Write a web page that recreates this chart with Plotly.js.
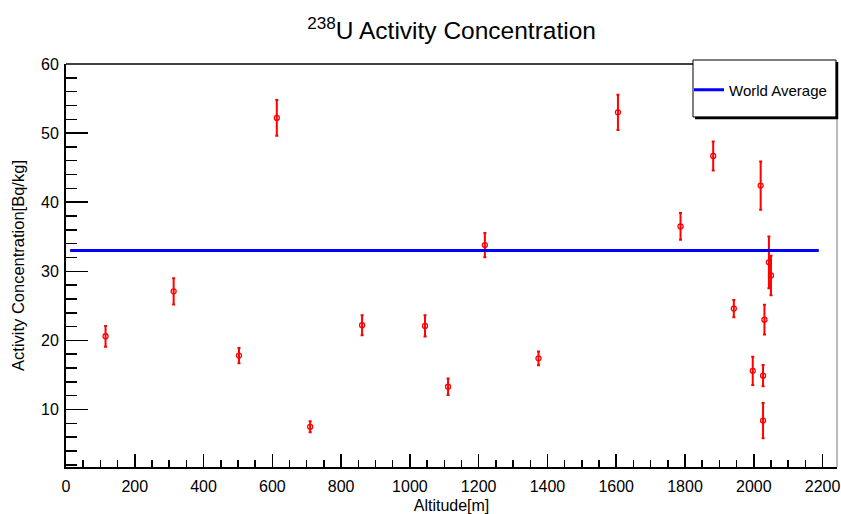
<!DOCTYPE html>
<html>
<head>
<meta charset="utf-8">
<script src="https://cdn.plot.ly/plotly-3.0.1.min.js"></script>
<style>html,body{margin:0;padding:0;background:#fff;}#chart{width:841px;height:514px;}</style>
</head>
<body>
<div id="chart"></div>
<script>
// Sample data
const altitude = [115, 313, 503, 613, 710, 861, 1044, 1111, 1218, 1374, 1605, 1787, 1882, 1942, 1997, 2020, 2027, 2027, 2031, 2044, 2050];
const activity = [20.6, 27.1, 17.8, 52.2, 7.5, 22.2, 22.1, 13.3, 33.8, 17.4, 53.0, 36.5, 46.7, 24.6, 15.6, 42.4, 14.9, 8.4, 23.0, 31.3, 29.4];
const activityErr = [1.5, 1.9, 1.1, 2.6, 0.8, 1.45, 1.55, 1.2, 1.75, 1.0, 2.55, 1.95, 2.1, 1.25, 2.05, 3.5, 1.55, 2.55, 2.15, 3.75, 2.85];

// World average reference line
const worldX = [12, 2189];
const worldY = [33, 33];
const worldName = "World Average";

const FONT = "'Liberation Sans', Arial, Helvetica, sans-serif";

// plot frame in pixels
const L = 66, R = 837, T = 64, B = 467, W = 841, H = 514;
const px = v => (v - L) / (R - L);
const py = v => (B - v) / (B - T);

const traces = [
  {
    x: altitude, y: activity, type: 'scatter', mode: 'markers',
    marker: {symbol: 'circle-open', size: 5, color: '#ff0000', line: {width: 1.3, color: '#ff0000'}},
    error_y: {type: 'data', array: activityErr, visible: true, color: '#ff0000', thickness: 2, width: 1.5},
    showlegend: false, hoverinfo: 'x+y'
  },
  {
    x: worldX, y: worldY, type: 'scatter', mode: 'lines', name: worldName,
    line: {color: '#0000ff', width: 3}, showlegend: true
  }
];

const layout = {
  width: W, height: H,
  margin: {l: L, r: W - R, t: T, b: H - B, pad: 0},
  paper_bgcolor: '#ffffff', plot_bgcolor: '#ffffff',
  font: {family: FONT, color: '#000000'},
  title: {text: '<sup>238</sup>U Activity Concentration', font: {family: FONT, size: 24.5, color: '#000'},
          x: 0.537, xanchor: 'center', y: 0.94, yanchor: 'middle'},
  xaxis: {
    range: [0, 2242], tick0: 0, dtick: 200, ticks: 'inside', ticklen: 13, tickwidth: 1.5, tickcolor: '#000',
    showline: true, linewidth: 2, linecolor: '#000', showgrid: false, zeroline: false,
    tickfont: {size: 16, family: FONT}, ticklabelstandoff: 4,
    minor: {dtick: 50, tick0: 0, ticks: 'inside', ticklen: 7, tickwidth: 1.5, tickcolor: '#000', showgrid: false},
    title: {text: 'Altitude[m]', font: {size: 16, family: FONT}, standoff: 13}
  },
  yaxis: {
    range: [1.68, 60], tick0: 0, dtick: 10, ticks: 'inside', ticklen: 22, tickwidth: 1.5, tickcolor: '#000',
    showline: true, linewidth: 2, linecolor: '#000', showgrid: false, zeroline: false,
    tickfont: {size: 16, family: FONT}, ticklabelstandoff: 2,
    minor: {dtick: 2, tick0: 0, ticks: 'inside', ticklen: 11, tickwidth: 1.5, tickcolor: '#000', showgrid: false},
    title: {text: 'Activity Concentration[Bq/kg]', font: {size: 16.5, family: FONT}, standoff: 12}
  },
  legend: {
    x: px(689), y: py(90), xanchor: 'left', yanchor: 'middle',
    bgcolor: 'rgba(0,0,0,0)', borderwidth: 0, font: {size: 15, family: FONT, color: '#000'}
  },
  shapes: [
    // frame top and right
    {type: 'line', xref: 'paper', yref: 'paper', x0: 0, x1: 1, y0: 1, y1: 1, line: {color: '#000', width: 1.5}},
    {type: 'line', xref: 'paper', yref: 'paper', x0: 1, x1: 1, y0: 0, y1: 1, line: {color: '#777', width: 1}},
    // legend box with shadow
    {type: 'rect', xref: 'paper', yref: 'paper', x0: px(693), x1: px(836), y0: py(117), y1: py(60),
     fillcolor: '#ffffff', line: {color: '#000', width: 1}, layer: 'above'},
    {type: 'line', xref: 'paper', yref: 'paper', x0: px(837), x1: px(837), y0: py(119), y1: py(62), line: {color: '#000', width: 2.5}},
    {type: 'line', xref: 'paper', yref: 'paper', x0: px(695), x1: px(838), y0: py(118), y1: py(118), line: {color: '#000', width: 2.5}}
  ]
};

Plotly.newPlot('chart', traces, layout, {displayModeBar: false, staticPlot: true});
</script>
</body>
</html>
